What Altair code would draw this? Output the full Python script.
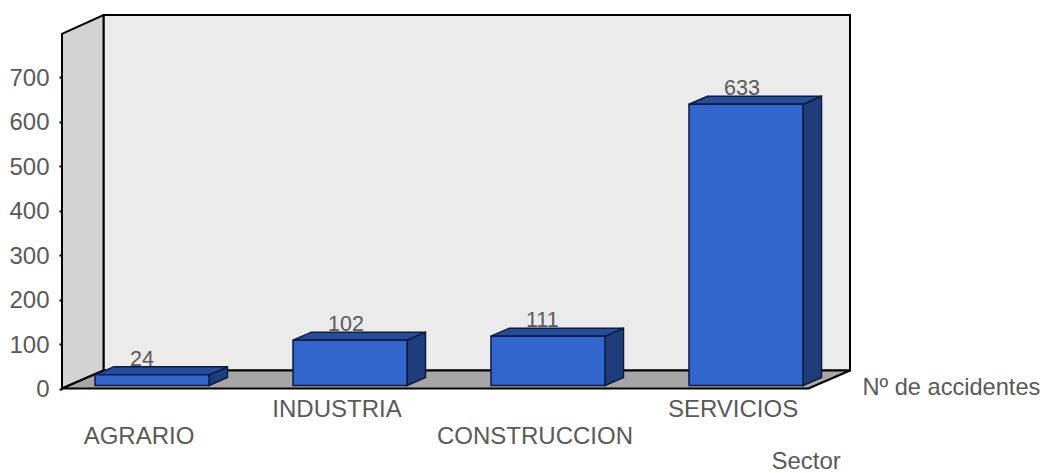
import json
import altair as alt
import pandas as pd

CATEGORIES = ["AGRARIO", "INDUSTRIA", "CONSTRUCCION", "SERVICIOS"]
VALUES = [24, 102, 111, 633]
Y_TICKS = [0, 100, 200, 300, 400, 500, 600, 700]
Y_TOP = 798

# chart geometry, in pixels of the plot area
W, H = 788, 373.5
PX_PER_UNIT = 0.4444
PX_PER_SLOT = 198
X_ZERO = 76.5                # pixel of slot 0 (centre of first category label)
WALL_DX, WALL_DY = 41.5, 18  # depth of the box
BAR_DX, BAR_DY = 18.5, 8     # depth of a bar
BAR_W = 114
BAR_SHIFT = 13.5
BAR_LIFT = 3
LABEL_IN = 35

FONT = "Liberation Sans"
GREY = "#595959"


def sx(px):
    return (px - X_ZERO) / PX_PER_SLOT


def sy(px):
    return px / PX_PER_UNIT


x_scale = alt.Scale(domain=[sx(0), sx(W)], nice=False, zero=False)
y_scale = alt.Scale(domain=[0, H / PX_PER_UNIT], nice=False, zero=False)

names_js = json.dumps(CATEGORIES)
x_axis = {
    "values": list(range(len(CATEGORIES))),
    "labelExpr": f"{names_js}[datum.value]",
    "title": "Sector", "titleX": 709, "titleY": 79.5, "titleAlign": "left", "titleBaseline": "alphabetic",
    "titleFont": FONT, "titleFontSize": 24, "titleFontWeight": "normal", "titleColor": GREY,
    "labelFont": FONT, "labelFontSize": 24, "labelColor": GREY, "labelOverlap": False, "labelBound": False,
    "labelFlush": False, "labelLimit": 400,
    "labelPadding": {"condition": {"test": "datum.value % 2 == 0", "value": 36}, "value": 9},
    "tickSize": 0, "domain": False, "grid": False,
}
y_axis = alt.Axis(
    values=Y_TICKS,
    title="Nº de accidentes", titleX=800, titleY=379, titleAngle=0, titleAlign="left",
    titleBaseline="alphabetic", titleFont=FONT, titleFontSize=23.6, titleFontWeight="normal",
    titleColor=GREY, labelFont=FONT, labelFontSize=24, labelColor=GREY, labelPadding=10, labelOffset=1,
    tickSize=3, tickWidth=2, tickColor="#000000", domain=False, grid=False, labelOverlap=False,
)

X = alt.X("x:Q", scale=x_scale, axis=x_axis)
Y = alt.Y("y:Q", scale=y_scale, axis=y_axis)

# --- the box -----------------------------------------------------------------
back = alt.Chart(pd.DataFrame([{
    "x": sx(WALL_DX), "x2": sx(W), "y": sy(WALL_DY), "y2": H / PX_PER_UNIT,
}])).mark_rect(fill="#EBEBEB", stroke="#000000", strokeWidth=2).encode(
    x=X, x2="x2:Q", y=Y, y2="y2:Q",
)

left_wall = alt.Chart(pd.DataFrame([
    {"x": sx(0), "y": 0, "y2": Y_TOP},
    {"x": sx(WALL_DX), "y": sy(WALL_DY), "y2": H / PX_PER_UNIT},
])).mark_area(orient="vertical", fill="#D3D3D3", stroke="#000000", strokeWidth=2).encode(
    x=X, y=Y, y2="y2:Q",
)

floor = alt.Chart(pd.DataFrame([
    {"y": 0, "x": sx(0), "x2": sx(W - WALL_DX)},
    {"y": sy(WALL_DY), "x": sx(WALL_DX), "x2": sx(W)},
])).mark_area(orient="horizontal", fill="#A6A6A6", stroke="#000000", strokeWidth=2).encode(
    x=X, x2="x2:Q", y=Y,
)

# --- the bars ----------------------------------------------------------------
front_rows, top_rows, side_rows, label_rows = [], [], [], []
for i, (c, v) in enumerate(zip(CATEGORIES, VALUES)):
    x0 = X_ZERO + i * PX_PER_SLOT + BAR_SHIFT - BAR_W / 2
    x1 = x0 + BAR_W
    base = sy(BAR_LIFT)
    top = base + v
    d = sy(BAR_DY)
    front_rows.append({"cat": c, "x": sx(x0), "x2": sx(x1), "y": base, "y2": top})
    top_rows += [
        {"cat": c, "y": top, "x": sx(x0), "x2": sx(x1)},
        {"cat": c, "y": top + d, "x": sx(x0 + BAR_DX), "x2": sx(x1 + BAR_DX)},
    ]
    side_rows += [
        {"cat": c, "x": sx(x1), "y": base, "y2": top},
        {"cat": c, "x": sx(x1 + BAR_DX), "y": base + d, "y2": top + d},
    ]
    label_rows.append({"x": sx(x0 + LABEL_IN), "y": top + d, "text": str(v)})

EDGE = "#0B1A3F"
side = alt.Chart(pd.DataFrame(side_rows)).mark_area(
    orient="vertical", fill="#1F3D7A", stroke=EDGE, strokeWidth=1.5
).encode(x=X, y=Y, y2="y2:Q", detail="cat:N")

top_face = alt.Chart(pd.DataFrame(top_rows)).mark_area(
    orient="horizontal", fill="#264D99", stroke=EDGE, strokeWidth=1.5
).encode(x=X, x2="x2:Q", y=Y, detail="cat:N")

front = alt.Chart(pd.DataFrame(front_rows)).mark_rect(
    fill="#3366CC", stroke=EDGE, strokeWidth=1.5
).encode(x=X, x2="x2:Q", y=Y, y2="y2:Q")

labels = alt.Chart(pd.DataFrame(label_rows)).mark_text(
    font=FONT, fontSize=21.5, color=GREY, align="left", baseline="alphabetic", dy=-1
).encode(x=X, y=Y, text="text:N")

chart = alt.layer(back, left_wall, floor, side, top_face, front, labels).properties(
    width=W, height=H,
    padding={"left": 54, "top": 7, "right": 190, "bottom": 84.5},
    autosize=alt.AutoSizeParams(type="none"),
).configure_view(stroke=None)

chart.save("out.html", embed_options={"renderer": "svg", "actions": False})
